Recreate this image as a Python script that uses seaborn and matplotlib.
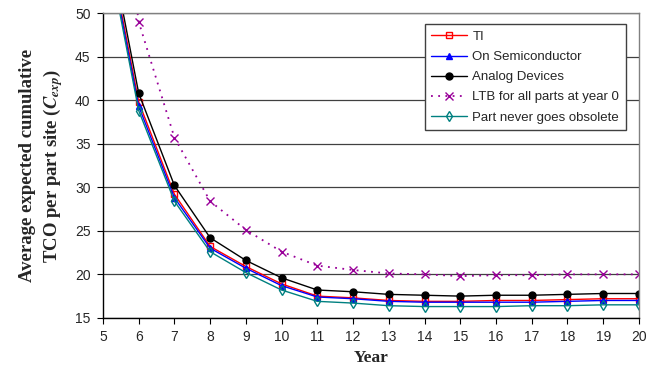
import matplotlib
matplotlib.use("Agg")
import matplotlib.pyplot as plt
import seaborn as sns
import pandas as pd

years = [5, 6, 7, 8, 9, 10, 11, 12, 13, 14, 15, 16, 17, 18, 19, 20]
ti = [61.0, 39.8, 29.2, 23.2, 20.9, 18.9, 17.5, 17.3, 17.0, 16.9, 16.9, 17.0, 17.0, 17.1, 17.2, 17.2]
on_semi = [60.5, 39.3, 28.8, 23.0, 20.7, 18.7, 17.4, 17.2, 16.9, 16.8, 16.8, 16.8, 16.8, 16.9, 17.0, 17.0]
analog = [62.0, 40.8, 30.2, 24.2, 21.6, 19.6, 18.2, 18.0, 17.7, 17.6, 17.5, 17.6, 17.6, 17.7, 17.8, 17.8]
ltb = [80.0, 49.0, 35.7, 28.4, 25.1, 22.6, 21.0, 20.5, 20.1, 20.0, 19.8, 19.9, 19.9, 20.0, 20.0, 20.0]
never = [60.0, 38.8, 28.4, 22.6, 20.2, 18.2, 16.9, 16.7, 16.4, 16.3, 16.3, 16.3, 16.4, 16.4, 16.5, 16.5]

series_names = ["TI", "On Semiconductor", "Analog Devices",
                "LTB for all parts at year 0", "Part never goes obsolete"]
series_vals = [ti, on_semi, analog, ltb, never]

rows = []
for name, vals in zip(series_names, series_vals):
    for yr, v in zip(years, vals):
        rows.append({"Year": yr, "Value": v, "Series": name})
df = pd.DataFrame(rows)

sns.set_style("white")
plt.rcParams["font.family"] = ["Liberation Sans", "DejaVu Sans"]
plt.rcParams["mathtext.fontset"] = "stix"

fig = plt.figure(figsize=(6.6, 3.83), dpi=100)
ax = fig.add_axes([0.156, 0.170, 0.812, 0.796])

styles = {
    "TI": dict(color="#ff0000", marker="s", mfc="none", mec="#ff0000", ms=4.5, ls="-", lw=1.0),
    "On Semiconductor": dict(color="#0000ff", marker="^", mfc="#0000ff", mec="#0000ff", ms=5, ls="-", lw=1.0),
    "Analog Devices": dict(color="#000000", marker="o", mfc="#000000", mec="#000000", ms=5, ls="-", lw=1.0),
    "LTB for all parts at year 0": dict(color="#990099", marker="x", mfc="#990099", mec="#990099", ms=6, ls=(0, (1, 3)), lw=1.3),
    "Part never goes obsolete": dict(color="#008080", marker="d", mfc="none", mec="#008080", ms=5, ls="-", lw=1.0),
}

for name in series_names:
    st = styles[name]
    sns.lineplot(data=df[df["Series"] == name], x="Year", y="Value", ax=ax,
                 color=st["color"], marker=st["marker"], markerfacecolor=st["mfc"],
                 markeredgecolor=st["mec"], markersize=st["ms"], linestyle=st["ls"],
                 linewidth=st["lw"], label=name, markeredgewidth=1.0,
                 estimator=None, clip_on=True)

ax.set_xlim(5, 20)
ax.set_ylim(15, 50)
ax.set_xticks(range(5, 21))
ax.set_yticks(range(15, 51, 5))
ax.yaxis.grid(True, color="#404040", linewidth=0.9)
ax.xaxis.grid(False)
ax.set_axisbelow(True)

for s in ["top", "right"]:
    ax.spines[s].set_color("#808080")
    ax.spines[s].set_linewidth(1.0)
for s in ["left", "bottom"]:
    ax.spines[s].set_color("#000000")
    ax.spines[s].set_linewidth(1.0)

ax.tick_params(axis="both", direction="out", length=4, width=0.8, color="black",
               labelsize=10, left=True, bottom=True, pad=5)

ax.set_xlabel("Year", family="Liberation Serif", fontweight="bold", fontsize=12.5, labelpad=4)
ax.set_ylabel("Average expected cumulative\nTCO per part site ($\\mathbfit{C}_{\\mathbfit{exp}}$)",
              family="Liberation Serif", fontweight="bold", fontsize=13.5, labelpad=7,
              linespacing=1.3)

leg = ax.legend(loc="upper right", bbox_to_anchor=(0.988, 0.985), fontsize=9.5,
                frameon=True, fancybox=False, edgecolor="#404040", framealpha=1,
                handlelength=2.7, borderpad=0.5, labelspacing=0.6, handletextpad=0.4)
leg.get_frame().set_linewidth(1.0)

fig.savefig("out.png", dpi=100)
